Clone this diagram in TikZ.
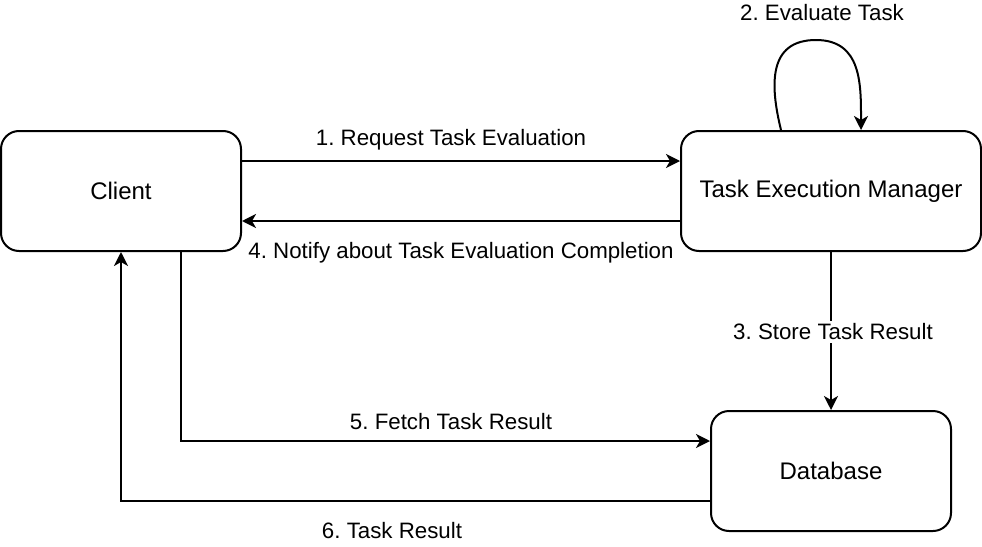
\documentclass[tikz,border=0pt]{standalone}
\usepackage{fontspec}
\setmainfont{Liberation Sans}
\usetikzlibrary{arrows.meta}
\frenchspacing
\begin{document}
\begin{tikzpicture}[x=1pt,y=-1pt,
  box/.style={draw=black,line width=2pt,rounded corners=18pt,minimum width=240pt,minimum height=120pt,inner sep=0pt,font=\fontsize{24}{28}\selectfont,fill=white},
  conn/.style={line width=2pt,-{Stealth[length=14pt,width=14pt,inset=4pt]}},
  lbl/.style={font=\fontsize{22.3}{26}\selectfont,inner sep=2pt}]
\useasboundingbox (0,0) rectangle (982,546);
\node[box] (client) at (121,191) {Client};
\node[box,minimum width=300pt] (tem) at (831,191) {Task Execution Manager};
\node[box] (db) at (831,471) {Database};
% 1
\draw[conn] ([yshift=30pt]client.east) -- ([yshift=30pt]tem.west);
\node[lbl] (l1) at (451,140) {1. Request Task Evaluation};
% 4
\draw[conn] ([yshift=-30pt]tem.west) -- ([yshift=-30pt]client.east);
\node[lbl] (l4) at (461,253) {4. Notify about Task Evaluation Completion};
% 2
\coordinate (loopTop) at (816,40);
\draw[conn] ([xshift=-50pt]tem.north) .. controls (770,85) and (768,40) .. (loopTop) .. controls (862,40) and (861,85) .. ([xshift=30pt]tem.north);
\node[lbl] (l2) at (822,13) {2. Evaluate Task};
% 3
\draw[conn] (tem.south) -- (db.north);
\node[lbl,fill=white,inner sep=3pt] (l3) at (833,332) {3. Store Task Result};
% 5
\draw[conn] ([xshift=60pt]client.south) |- ([yshift=30pt]db.west);
\node[lbl] (l5) at (451,422) {5. Fetch Task Result};
% 6
\draw[conn] ([yshift=-30pt]db.west) -| (client.south);
\node[lbl] (l6) at (392,531) {6. Task Result};
\end{tikzpicture}
\end{document}
